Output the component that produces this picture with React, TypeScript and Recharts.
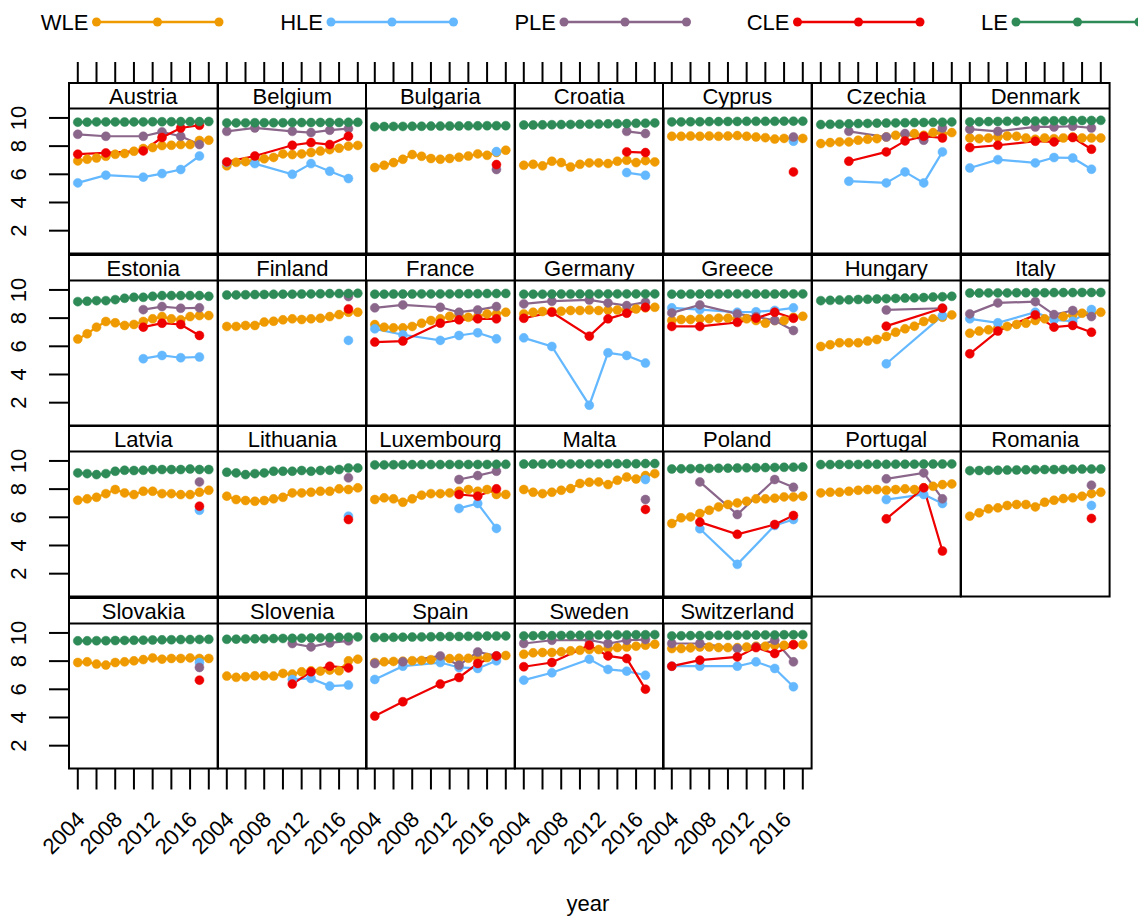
import React from 'react';
import { LineChart, Line, XAxis, YAxis } from 'recharts';

const _ = null;

const years = [2004, 2005, 2006, 2007, 2008, 2009, 2010, 2011, 2012, 2013, 2014, 2015, 2016, 2017, 2018];
const surveyYears = [2004, 2007, 2011, 2013, 2015, 2017];
const xTicks = [2004, 2006, 2008, 2010, 2012, 2014, 2016, 2018];
const xLabels = [2004, 2008, 2012, 2016];
const yTicks = [2, 4, 6, 8, 10];

const countries = [
  'Austria', 'Belgium', 'Bulgaria', 'Croatia', 'Cyprus', 'Czechia', 'Denmark',
  'Estonia', 'Finland', 'France', 'Germany', 'Greece', 'Hungary', 'Italy',
  'Latvia', 'Lithuania', 'Luxembourg', 'Malta', 'Poland', 'Portugal', 'Romania',
  'Slovakia', 'Slovenia', 'Spain', 'Sweden', 'Switzerland',
];

// yearly series, 2004..2018
const wle = [
  [6.95, 7.07, 7.16, 7.28, 7.42, 7.47, 7.64, 7.83, 7.9, 8.04, 8.06, 8.11, 8.11, 8.4, 8.42],
  [6.6, 6.85, 6.9, 7.0, 7.1, 7.2, 7.45, 7.4, 7.45, 7.55, 7.65, 7.75, 7.85, 8.0, 8.05],
  [6.48, 6.64, 6.83, 7.07, 7.4, 7.28, 7.12, 7.07, 7.12, 7.21, 7.3, 7.45, 7.35, 7.55, 7.71],
  [6.64, 6.71, 6.6, 6.93, 6.83, 6.52, 6.71, 6.81, 6.81, 6.76, 6.93, 7.0, 6.83, 6.97, 6.88],
  [8.7, 8.7, 8.72, 8.7, 8.72, 8.7, 8.72, 8.75, 8.7, 8.65, 8.6, 8.5, 8.55, 8.55, 8.55],
  [8.18, 8.25, 8.3, 8.3, 8.42, 8.49, 8.53, 8.65, 8.77, 8.82, 8.89, 8.77, 8.96, 8.85, 8.96],
  [8.58, 8.53, 8.58, 8.65, 8.72, 8.7, 8.58, 8.49, 8.58, 8.53, 8.58, 8.65, 8.58, 8.58, 8.58],
  [6.51, 6.89, 7.36, 7.76, 7.67, 7.48, 7.55, 7.76, 7.95, 8.11, 7.95, 7.88, 8.11, 8.18, 8.18],
  [7.41, 7.41, 7.48, 7.48, 7.72, 7.78, 7.88, 7.95, 7.9, 7.95, 7.99, 8.11, 8.25, 8.42, 8.42],
  [7.54, 7.36, 7.31, 7.31, 7.41, 7.64, 7.83, 7.95, 8.13, 8.18, 8.06, 8.11, 8.3, 8.3, 8.42],
  [8.3, 8.42, 8.47, 8.47, 8.49, 8.54, 8.54, 8.58, 8.54, 8.58, 8.58, 8.58, 8.65, 8.73, 8.77],
  [7.83, 7.9, 7.9, 7.95, 7.95, 8.0, 8.0, 7.95, 7.95, 7.83, 7.64, 7.83, 7.83, 8.06, 8.13],
  [5.99, 6.11, 6.25, 6.25, 6.25, 6.37, 6.48, 6.7, 7.0, 7.24, 7.43, 7.76, 7.95, 8.06, 8.23],
  [6.93, 7.08, 7.17, 7.31, 7.41, 7.55, 7.64, 7.83, 7.95, 7.99, 8.11, 8.23, 8.35, 8.35, 8.42],
  [7.21, 7.31, 7.42, 7.68, 7.97, 7.73, 7.61, 7.85, 7.85, 7.68, 7.68, 7.61, 7.61, 7.78, 7.92],
  [7.5, 7.26, 7.19, 7.14, 7.19, 7.31, 7.42, 7.73, 7.73, 7.78, 7.85, 7.85, 8.02, 7.97, 8.09],
  [7.26, 7.38, 7.31, 7.07, 7.31, 7.57, 7.68, 7.68, 7.73, 7.85, 7.97, 7.85, 7.97, 7.62, 7.62],
  [7.97, 7.78, 7.68, 7.78, 7.92, 8.04, 8.4, 8.49, 8.51, 8.32, 8.63, 8.86, 8.72, 8.96, 9.1],
  [5.56, 5.96, 6.03, 6.27, 6.5, 6.74, 6.91, 7.02, 7.14, 7.31, 7.31, 7.36, 7.45, 7.45, 7.5],
  [7.73, 7.78, 7.78, 7.85, 7.92, 7.97, 7.97, 7.92, 7.97, 8.02, 7.97, 8.09, 8.2, 8.32, 8.37],
  [6.08, 6.32, 6.6, 6.67, 6.84, 6.91, 6.91, 6.74, 7.07, 7.21, 7.33, 7.38, 7.5, 7.68, 7.78],
  [7.9, 7.95, 7.79, 7.72, 7.9, 7.95, 8.02, 8.11, 8.23, 8.14, 8.19, 8.19, 8.23, 8.19, 8.19],
  [6.94, 6.85, 6.89, 6.96, 6.96, 6.94, 7.13, 7.08, 7.24, 7.31, 7.29, 7.36, 7.31, 8.02, 8.14],
  [7.9, 7.95, 7.98, 8.0, 8.03, 8.05, 8.1, 8.15, 8.18, 8.2, 8.2, 8.22, 8.25, 8.3, 8.4],
  [8.49, 8.59, 8.61, 8.61, 8.66, 8.73, 8.77, 8.82, 8.82, 8.89, 8.96, 9.0, 9.06, 9.13, 9.2],
  [8.89, 8.89, 8.94, 9.0, 9.0, 8.96, 8.96, 8.96, 9.0, 9.06, 9.06, 9.13, 9.13, 9.17, 9.17],
];

const le = [
  [9.7, 9.7, 9.72, 9.72, 9.72, 9.71, 9.72, 9.72, 9.73, 9.73, 9.73, 9.74, 9.74, 9.74, 9.75],
  [9.65, 9.65, 9.65, 9.66, 9.66, 9.66, 9.66, 9.67, 9.67, 9.67, 9.68, 9.68, 9.68, 9.69, 9.69],
  [9.38, 9.39, 9.4, 9.4, 9.41, 9.41, 9.42, 9.42, 9.43, 9.43, 9.44, 9.44, 9.45, 9.45, 9.45],
  [9.5, 9.5, 9.51, 9.52, 9.53, 9.54, 9.55, 9.56, 9.57, 9.58, 9.59, 9.6, 9.62, 9.63, 9.65],
  [9.72, 9.72, 9.73, 9.73, 9.74, 9.74, 9.75, 9.75, 9.76, 9.76, 9.76, 9.76, 9.77, 9.77, 9.77],
  [9.53, 9.55, 9.56, 9.58, 9.6, 9.61, 9.63, 9.64, 9.65, 9.66, 9.67, 9.68, 9.69, 9.7, 9.72],
  [9.72, 9.73, 9.74, 9.75, 9.76, 9.77, 9.78, 9.78, 9.79, 9.8, 9.8, 9.81, 9.82, 9.82, 9.83],
  [9.17, 9.2, 9.24, 9.24, 9.31, 9.41, 9.48, 9.48, 9.55, 9.6, 9.6, 9.6, 9.6, 9.6, 9.55],
  [9.64, 9.65, 9.66, 9.67, 9.68, 9.69, 9.7, 9.7, 9.71, 9.72, 9.73, 9.74, 9.74, 9.75, 9.76],
  [9.7, 9.7, 9.71, 9.71, 9.71, 9.72, 9.72, 9.72, 9.72, 9.73, 9.73, 9.73, 9.74, 9.74, 9.75],
  [9.7, 9.7, 9.7, 9.71, 9.71, 9.71, 9.71, 9.71, 9.72, 9.72, 9.72, 9.72, 9.72, 9.72, 9.72],
  [9.7, 9.7, 9.71, 9.71, 9.71, 9.71, 9.72, 9.72, 9.72, 9.72, 9.71, 9.71, 9.72, 9.72, 9.72],
  [9.24, 9.26, 9.28, 9.3, 9.32, 9.34, 9.36, 9.38, 9.4, 9.42, 9.44, 9.46, 9.5, 9.52, 9.55],
  [9.78, 9.78, 9.79, 9.79, 9.79, 9.8, 9.8, 9.8, 9.8, 9.81, 9.81, 9.81, 9.82, 9.82, 9.82],
  [9.15, 9.1, 9.03, 9.1, 9.27, 9.34, 9.32, 9.34, 9.39, 9.39, 9.39, 9.39, 9.43, 9.39, 9.39],
  [9.2, 9.15, 9.03, 9.1, 9.15, 9.27, 9.27, 9.27, 9.32, 9.27, 9.32, 9.34, 9.39, 9.5, 9.5],
  [9.72, 9.72, 9.73, 9.73, 9.74, 9.74, 9.74, 9.74, 9.75, 9.75, 9.75, 9.75, 9.75, 9.76, 9.76],
  [9.78, 9.78, 9.78, 9.79, 9.79, 9.79, 9.79, 9.79, 9.79, 9.8, 9.8, 9.8, 9.8, 9.81, 9.81],
  [9.43, 9.44, 9.45, 9.46, 9.47, 9.48, 9.49, 9.5, 9.51, 9.52, 9.53, 9.54, 9.55, 9.56, 9.57],
  [9.74, 9.74, 9.75, 9.75, 9.75, 9.76, 9.76, 9.76, 9.77, 9.77, 9.77, 9.78, 9.78, 9.78, 9.79],
  [9.31, 9.32, 9.33, 9.34, 9.35, 9.36, 9.37, 9.38, 9.39, 9.39, 9.4, 9.41, 9.42, 9.42, 9.43],
  [9.44, 9.44, 9.45, 9.45, 9.46, 9.47, 9.48, 9.49, 9.5, 9.51, 9.52, 9.53, 9.53, 9.54, 9.55],
  [9.55, 9.56, 9.57, 9.58, 9.59, 9.6, 9.61, 9.62, 9.63, 9.64, 9.65, 9.67, 9.69, 9.7, 9.72],
  [9.67, 9.68, 9.69, 9.7, 9.71, 9.72, 9.73, 9.74, 9.75, 9.75, 9.76, 9.77, 9.78, 9.78, 9.79],
  [9.79, 9.8, 9.81, 9.81, 9.82, 9.83, 9.83, 9.84, 9.85, 9.85, 9.86, 9.86, 9.87, 9.87, 9.88],
  [9.79, 9.8, 9.81, 9.81, 9.82, 9.83, 9.83, 9.84, 9.85, 9.85, 9.86, 9.86, 9.87, 9.87, 9.88],
];

// survey series, 2004 / 2007 / 2011 / 2013 / 2015 / 2017
const hle = [
  [5.39, 5.94, 5.8, 6.05, 6.34, 7.3],
  [6.83, 6.76, 6.0, 6.76, 6.22, 5.7],
  [_, _, _, _, _, 7.61],
  [_, _, _, _, 6.12, 5.93],
  [_, _, _, _, _, 8.35],
  [_, 5.51, 5.39, 6.17, 5.39, 7.59],
  [6.45, 7.04, 6.81, 7.19, 7.16, 6.36],
  [_, _, 5.12, 5.35, 5.19, 5.24],
  [_, _, _, _, _, 6.42],
  [7.24, 6.82, 6.42, 6.77, 6.96, 6.53],
  [6.6, 5.99, 1.82, 5.54, 5.35, 4.81],
  [8.73, 8.6, 8.42, 8.45, 8.55, 8.73],
  [_, _, 4.76, _, _, 8.18],
  [7.95, 7.67, 8.42, 7.88, 7.78, 8.61],
  [_, _, _, _, _, 6.5],
  [_, _, _, _, _, 6.08],
  [_, _, _, 6.63, 6.98, 5.21],
  [_, _, _, _, _, 8.68],
  [_, 5.19, 2.66, _, 5.42, 5.84],
  [_, _, 7.26, _, 7.62, 6.98],
  [_, _, _, _, _, 6.84],
  [_, _, _, _, _, 7.9],
  [_, _, 6.7, 6.77, 6.23, 6.3],
  [6.7, 7.64, 7.9, 7.55, 7.48, 8.02],
  [6.65, 7.17, 8.14, 7.41, 7.29, 7.0],
  [7.64, 7.64, 7.64, 7.95, 7.48, 6.18],
];

const ple = [
  [8.84, 8.7, 8.7, 9.01, 8.7, 8.11],
  [9.05, 9.29, 9.05, 8.96, 9.13, 9.24],
  [_, _, _, _, _, 6.34],
  [_, _, _, _, 9.05, 8.89],
  [_, _, _, _, _, 8.65],
  [_, 9.05, 8.65, 8.89, 8.42, 9.29],
  [9.2, 9.05, 9.36, 9.36, 9.41, 9.29],
  [_, _, 8.6, 8.82, 8.7, 8.73],
  [_, _, _, _, _, 9.53],
  [8.73, 8.94, 8.77, 8.42, 8.58, 8.82],
  [9.01, 9.2, 9.29, 9.08, 8.89, 9.13],
  [8.37, 8.94, 8.3, 8.1, 7.83, 7.12],
  [_, _, 8.58, _, _, 8.7],
  [8.3, 9.08, 9.17, 8.25, 8.54, 8.11],
  [_, _, _, _, _, 8.51],
  [_, _, _, _, _, 8.8],
  [_, _, _, 8.68, 8.96, 9.27],
  [_, _, _, _, _, 7.26],
  [_, 8.51, 6.2, _, 8.68, 8.13],
  [_, _, 8.73, _, 9.15, 7.31],
  [_, _, _, _, _, 8.28],
  [_, _, _, _, _, 7.55],
  [_, _, 9.25, 9.01, 9.29, 9.44],
  [7.83, 7.95, 8.37, 7.71, 8.65, 8.37],
  [9.25, 9.48, 9.5, 9.25, 9.48, 9.53],
  [9.25, 9.25, 8.89, 9.01, 9.48, 7.95],
];

const cle = [
  [7.43, 7.52, 7.66, 8.61, 9.29, 9.48],
  [6.88, 7.3, 8.06, 8.25, 8.11, 8.7],
  [_, _, _, _, _, 6.69],
  [_, _, _, _, 7.59, 7.54],
  [_, _, _, _, _, 6.17],
  [_, 6.93, 7.59, 8.37, 8.7, 8.58],
  [7.9, 8.06, 8.35, 8.3, 8.61, 7.78],
  [_, _, 7.36, 7.64, 7.55, 6.77],
  [_, _, _, _, _, 8.65],
  [6.3, 6.37, 7.64, 7.88, 7.95, 7.95],
  [7.99, 8.42, 6.72, 7.95, 8.35, 8.77],
  [7.41, 7.41, 7.7, 8.0, 8.42, 7.99],
  [_, _, 7.43, _, _, 8.7],
  [5.47, 7.08, 8.23, 7.36, 7.48, 7.0],
  [_, _, _, _, _, 6.79],
  [_, _, _, _, _, 5.84],
  [_, _, _, 7.62, 7.5, 8.02],
  [_, _, _, _, _, 6.56],
  [_, 5.66, 4.79, _, 5.49, 6.13],
  [_, _, 5.89, _, 8.09, 3.61],
  [_, _, _, _, _, 5.92],
  [_, _, _, _, _, 6.65],
  [_, _, 6.37, 7.24, 7.64, 7.52],
  [4.1, 5.12, 6.37, 6.84, 7.83, 8.37],
  [7.6, 7.9, 9.13, 8.37, 8.18, 6.01],
  [7.64, 8.07, 8.3, 8.96, 8.54, 9.17],
];

const series = [
  { key: 'WLE', color: '#EE9A00' },
  { key: 'HLE', color: '#63B8FF' },
  { key: 'PLE', color: '#8B668B' },
  { key: 'CLE', color: '#EE0000' },
  { key: 'LE', color: '#2E8B57' },
];

const FONT = '"Liberation Sans", Arial, Helvetica, sans-serif';
const FS = 22;
const PANEL_W = 148.6;
const STRIP_H = 25.5;
const PLOT_H = 145;
const COL0 = 69;
const ROW0 = 83;
const ROW_STEP = 171.6;
const NCOL = 7;
const NROW = 4;
// room around each panel for its ticks and labels
const PAD_L = 70;
const PAD_T = 22;
const PAD_B = 90;
const X_DOMAIN = [2003.06, 2018.94];
const Y_DOMAIN = [0.38, 10.67];

const rowsFor = (i: number) =>
  years.map((year, j) => {
    const k = surveyYears.indexOf(year);
    return {
      year,
      WLE: wle[i][j],
      HLE: k >= 0 ? hle[i][k] : null,
      PLE: k >= 0 ? ple[i][k] : null,
      CLE: k >= 0 ? cle[i][k] : null,
      LE: le[i][j],
    };
  });

const PLOT_BOTTOM = PAD_T + STRIP_H + PLOT_H;

const XTick = (props: any) => {
  const { x, payload, showTop, showBottom } = props;
  const v = payload.value;
  const ly = PLOT_BOTTOM + 47;
  return (
    <g>
      {showTop && <line x1={x} x2={x} y1={1} y2={PAD_T} stroke="#000" strokeWidth={2} />}
      {showBottom && (
        <line x1={x} x2={x} y1={PLOT_BOTTOM} y2={PLOT_BOTTOM + 21} stroke="#000" strokeWidth={2} />
      )}
      {showBottom && xLabels.includes(v) && (
        <g transform={`translate(${x + 3}, ${ly}) rotate(-45)`}>
          <text x={0} y={0} dy="0.35em" textAnchor="end" fontFamily={FONT} fontSize={FS} fill="#000">
            {v}
          </text>
        </g>
      )}
    </g>
  );
};

const YTick = (props: any) => {
  const { y, payload, show } = props;
  if (!show) return <g />;
  const lx = PAD_L - 42.5;
  return (
    <g>
      <line x1={PAD_L - 20} x2={PAD_L} y1={y} y2={y} stroke="#000" strokeWidth={2} />
      <g transform={`translate(${lx}, ${y}) rotate(-90)`}>
        <text x={0} y={0} textAnchor="middle" fontFamily={FONT} fontSize={FS} fill="#000">
          {payload.value}
        </text>
      </g>
    </g>
  );
};

const Panel = ({ index }: { index: number }) => {
  const col = index % NCOL;
  const row = Math.floor(index / NCOL);
  const left = COL0 + col * PANEL_W;
  const top = ROW0 + row * ROW_STEP;
  const showTop = row === 0;
  const showBottom = row === NROW - 1;
  const showLeft = col === 0;
  const data = rowsFor(index);

  return (
    <div
      style={{
        position: 'absolute',
        left: left - PAD_L,
        top: top - PAD_T,
        width: PAD_L + PANEL_W,
        height: PLOT_BOTTOM + PAD_B,
        pointerEvents: 'none',
      }}
    >
      <LineChart
        width={PAD_L + PANEL_W}
        height={PLOT_BOTTOM + PAD_B}
        data={data}
        margin={{ top: PAD_T + STRIP_H, right: 0, bottom: 0, left: 0 }}
      >
        <XAxis
          type="number"
          dataKey="year"
          domain={X_DOMAIN}
          allowDataOverflow
          ticks={xTicks}
          interval={0}
          height={PAD_B}
          axisLine={false}
          tickLine={false}
          tick={(p: any) => <XTick {...p} showTop={showTop} showBottom={showBottom} />}
        />
        <YAxis
          type="number"
          domain={Y_DOMAIN}
          allowDataOverflow
          ticks={yTicks}
          interval={0}
          width={PAD_L}
          axisLine={false}
          tickLine={false}
          tick={(p: any) => <YTick {...p} show={showLeft} />}
        />
        {series.map((s) => (
          <Line
            key={s.key}
            dataKey={s.key}
            stroke={s.color}
            strokeWidth={2.2}
            connectNulls
            dot={{ r: 4.5, fill: s.color, stroke: s.color, strokeWidth: 0.5 }}
            activeDot={false}
            isAnimationActive={false}
          />
        ))}
      </LineChart>
      <svg
        width={PANEL_W}
        height={STRIP_H + PLOT_H}
        style={{ position: 'absolute', left: PAD_L, top: PAD_T, overflow: 'visible' }}
      >
        <rect x={0} y={0} width={PANEL_W} height={STRIP_H} fill="#fff" />
        <text x={PANEL_W / 2} y={20.8} textAnchor="middle" fontFamily={FONT} fontSize={FS} fill="#000">
          {countries[index]}
        </text>
        <rect x={0} y={0} width={PANEL_W} height={STRIP_H + PLOT_H} fill="none" stroke="#000" strokeWidth={2} />
        <line x1={0} x2={PANEL_W} y1={STRIP_H} y2={STRIP_H} stroke="#000" strokeWidth={2} />
      </svg>
    </div>
  );
};

const legendItems = [
  { key: 'WLE', dots: [96.5, 157.5, 219] },
  { key: 'HLE', dots: [331, 392, 453.5] },
  { key: 'PLE', dots: [564, 625, 686.5] },
  { key: 'CLE', dots: [797.5, 858.5, 920] },
  { key: 'LE', dots: [1016, 1077.5, 1139] },
];

const Legend = () => (
  <svg width={1138} height={50} style={{ position: 'absolute', left: 0, top: 0 }}>
    {legendItems.map((it) => {
      const color = series.find((s) => s.key === it.key)!.color;
      return (
        <g key={it.key}>
          <text x={it.dots[0] - 8} y={30} textAnchor="end" fontFamily={FONT} fontSize={FS} fill="#000">
            {it.key}
          </text>
          <line x1={it.dots[0]} x2={it.dots[2]} y1={22} y2={22} stroke={color} strokeWidth={2.4} />
          {it.dots.map((d) => (
            <circle key={d} cx={d} cy={22} r={4.5} fill={color} />
          ))}
        </g>
      );
    })}
  </svg>
);

export default function App() {
  return (
    <div
      style={{
        position: 'absolute',
        left: 0,
        top: 0,
        width: 1138,
        height: 919,
        background: '#fff',
        overflow: 'hidden',
        fontFamily: FONT,
      }}
    >
      <Legend />
      {countries.map((c, i) => (
        <Panel key={c} index={i} />
      ))}
      <svg width={1138} height={919} style={{ position: 'absolute', left: 0, top: 0, pointerEvents: 'none' }}>
        <text x={588} y={911} textAnchor="middle" fontFamily={FONT} fontSize={FS} fill="#000">
          year
        </text>
      </svg>
    </div>
  );
}
